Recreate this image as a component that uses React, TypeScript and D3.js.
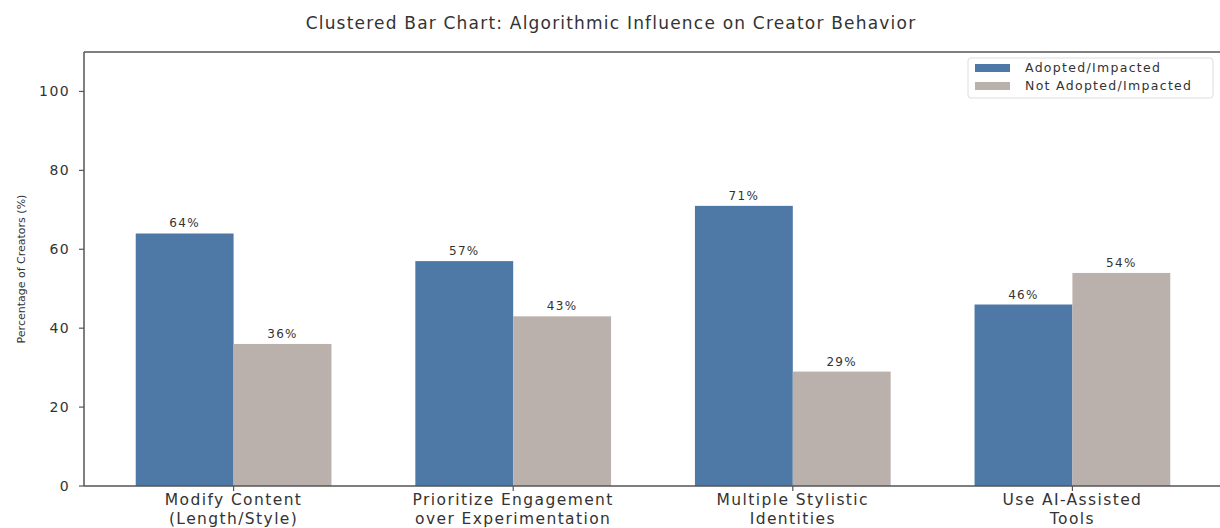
import * as d3 from "d3";

const W = 1220;
const H = 528;
// axes box in pixels (right spine sits just off the picture)
const BOX = { left: 84, right: 1222, top: 52, bottom: 486 };

const categories = [
  ["Modify Content", "(Length/Style)"],
  ["Prioritize Engagement", "over Experimentation"],
  ["Multiple Stylistic", "Identities"],
  ["Use AI-Assisted", "Tools"],
];
const adopted = [64, 57, 71, 46];
const notAdopted = [36, 43, 29, 54];
const yTicks = [0, 20, 40, 60, 80, 100];

const SERIES = [
  { name: "Adopted/Impacted", values: adopted, color: "#4e79a7", offset: -0.175 },
  { name: "Not Adopted/Impacted", values: notAdopted, color: "#bab0ac", offset: 0.175 },
];
const BAR_W = 0.35;
const FONT = "'DejaVu Sans', sans-serif";
const TEXT = "#333";
const AXIS = "#555";

export default function App() {
  const x = d3.scaleLinear().domain([-0.535, 3.535]).range([BOX.left, BOX.right]);
  const y = d3.scaleLinear().domain([0, 110]).range([BOX.bottom, BOX.top]);
  const bw = x(BAR_W) - x(0);

  return (
    <svg
      width={W}
      height={H}
      style={{ position: "absolute", left: 0, top: 0, background: "#fff" }}
      fontFamily={FONT}
    >
      <text x={611} y={29} textAnchor="middle" fontSize={17} letterSpacing={1.2} fill={TEXT}>
        Clustered Bar Chart: Algorithmic Influence on Creator Behavior
      </text>

      {/* bars + value labels */}
      {SERIES.map((s) => (
        <g key={s.name}>
          {s.values.map((v, i) => {
            const cx = x(i + s.offset);
            return (
              <g key={i}>
                <rect x={cx - bw / 2} y={y(v)} width={bw} height={y(0) - y(v)} fill={s.color} />
                <text x={cx} y={y(v) - 6} textAnchor="middle" fontSize={12} letterSpacing={1.3} fill={TEXT}>
                  {v}%
                </text>
              </g>
            );
          })}
        </g>
      ))}

      {/* spines */}
      <line x1={BOX.left} x2={BOX.right} y1={BOX.top} y2={BOX.top} stroke={AXIS} strokeWidth={1.5} />
      <line x1={BOX.left} x2={BOX.right} y1={BOX.bottom} y2={BOX.bottom} stroke={AXIS} strokeWidth={1.5} />
      <line x1={BOX.left} x2={BOX.left} y1={BOX.top} y2={BOX.bottom} stroke={AXIS} strokeWidth={1.5} />

      {/* y axis */}
      {yTicks.map((t) => (
        <g key={t}>
          <line x1={BOX.left - 5} x2={BOX.left} y1={y(t)} y2={y(t)} stroke={AXIS} strokeWidth={1.2} />
          <text x={BOX.left - 14} y={y(t)} dy="0.35em" textAnchor="end" fontSize={14} letterSpacing={1.4} fill={TEXT}>
            {t}
          </text>
        </g>
      ))}
      <text
        transform={`translate(21,${(BOX.top + BOX.bottom) / 2}) rotate(-90)`}
        textAnchor="middle"
        dy="0.35em"
        fontSize={11}
        fill={TEXT}
      >
        Percentage of Creators (%)
      </text>

      {/* x axis */}
      {categories.map((c, i) => (
        <g key={i}>
          <line x1={x(i)} x2={x(i)} y1={BOX.bottom} y2={BOX.bottom + 5} stroke={AXIS} strokeWidth={1.2} />
          {c.map((line, j) => (
            <text
              key={j}
              x={x(i)}
              y={BOX.bottom + 19 + j * 19}
              textAnchor="middle"
              fontSize={15.5}
              letterSpacing={1.4}
              fill={TEXT}
            >
              {line}
            </text>
          ))}
        </g>
      ))}

      {/* legend */}
      <g>
        <rect x={968} y={58} width={245} height={40} rx={3} fill="#fff" stroke="#ddd" />
        {SERIES.map((s, i) => (
          <g key={s.name}>
            <rect x={975} y={64 + i * 18} width={35} height={8} fill={s.color} />
            <text x={1025} y={68 + i * 18} dy="0.35em" fontSize={12.5} letterSpacing={1.3} fill={TEXT}>
              {s.name}
            </text>
          </g>
        ))}
      </g>
    </svg>
  );
}
